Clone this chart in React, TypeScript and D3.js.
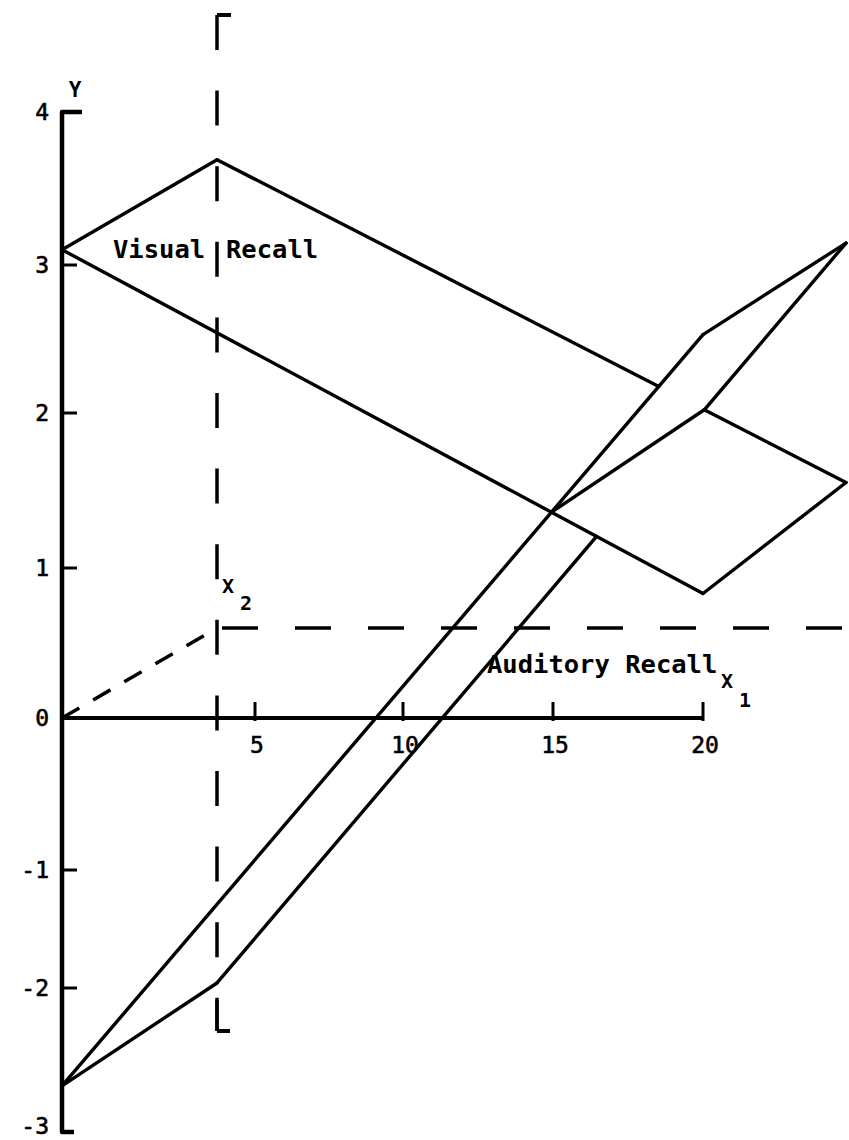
import React from "react";
import * as d3 from "d3";

// ---- data ----
const yTicks = [4, 3, 2, 1, 0, -1, -2, -3];
const yTickPos = [112, 265, 413, 568, 718, 870, 988, 1132]; // scanned axis (uneven spacing)
const x1Ticks = [5, 10, 15, 20];
const x1TickPos = [255, 403, 553, 703];
// plane heights (Y) at corners: [X1=0,X2=0], [X1=0,X2=max], [X1=20,X2=0], [X1=20,X2=max]
const visualY = [3.1, 3.1, 0.83, 0.97];
const auditoryY = [-2.68, -2.59, 2.53, 2.54];
const cornerX1 = [0, 0, 20, 20];
const cornerX2 = [0, 1, 0, 1];

const W = 849;
const H = 1140;

type P = [number, number];

function intersect(a: P, b: P, c: P, d: P): P {
  const r = [b[0] - a[0], b[1] - a[1]];
  const s = [d[0] - c[0], d[1] - c[1]];
  const den = r[0] * s[1] - r[1] * s[0];
  const t = ((c[0] - a[0]) * s[1] - (c[1] - a[1]) * s[0]) / den;
  return [a[0] + t * r[0], a[1] + t * r[1]];
}

export default function App() {
  const yScale = d3.scaleLinear().domain(yTicks).range(yTickPos);
  const xScale = d3.scaleLinear().domain([0, ...x1Ticks]).range([62, ...x1TickPos]);
  const x2Dx = d3.scaleLinear().domain([0, 20]).range([155, 143]);
  const X2_DY = -90;

  const proj = (x1: number, x2: number, y: number): P => [
    xScale(x1) + x2 * x2Dx(x1),
    yScale(y) + x2 * X2_DY,
  ];

  const V = visualY.map((y, i) => proj(cornerX1[i], cornerX2[i], y));
  const A = auditoryY.map((y, i) => proj(cornerX1[i], cornerX2[i], y));
  // V[0]=00, V[1]=0M, V[2]=20, V[3]=2M
  const P1 = intersect(V[1], V[3], A[0], A[2]); // visual top edge x auditory upper edge
  const P2 = intersect(V[1], V[3], A[1], A[3]); // visual top edge x auditory lower edge
  const P3 = intersect(V[0], V[2], A[0], A[2]); // visual bottom edge x auditory upper edge
  const P4 = intersect(V[0], V[2], A[1], A[3]); // visual bottom edge x auditory lower edge

  const line = d3.line<P>();
  const segs: P[][] = [
    // visual plane
    [V[0], V[1]],
    [V[1], P1],
    [P2, V[3]],
    [V[3], V[2]],
    [V[2], V[0]],
    // auditory plane
    [A[0], A[1]],
    [A[0], A[2]],
    [A[2], A[3]],
    [A[1], P4],
    [P2, A[3]],
    // intersection of the planes
    [P3, P2],
  ];

  const y0 = yScale(0);
  const yTopPx = yScale(4);
  const yBotPx = yScale(-3);
  const ox = xScale(0);
  const x2x = ox + x2Dx(0);
  const x2y = y0 + X2_DY;

  const font = "'DejaVu Sans Mono', 'Liberation Mono', monospace";

  return (
    <svg
      width={W}
      height={H}
      style={{ position: "absolute", left: 0, top: 0, display: "block", background: "#fff" }}
    >
      <rect x={0} y={0} width={W} height={H} fill="#fff" />

      {/* X2 dashed structure */}
      <path
        d={line([[ox, y0], [x2x, x2y]])!}
        stroke="#000"
        strokeWidth={3.5}
        strokeDasharray="20 16"
        fill="none"
      />
      <path
        d={line([[x2x + 5, x2y], [W, x2y]])!}
        stroke="#000"
        strokeWidth={3.5}
        strokeDasharray="36 37"
        fill="none"
      />
      <path
        d={line([[x2x, 15], [x2x, 1031]])!}
        stroke="#000"
        strokeWidth={3.5}
        strokeDasharray="35 40.6"
        fill="none"
      />
      <path d={line([[x2x, 15], [x2x + 14, 15]])!} stroke="#000" strokeWidth={4} fill="none" />
      <path d={line([[x2x, 1031], [x2x + 13, 1031]])!} stroke="#000" strokeWidth={4} fill="none" />
      <path d={line([[x2x, 1000], [x2x, 1031]])!} stroke="#000" strokeWidth={3.5} fill="none" />

      {/* Y axis */}
      <path
        d={line([[ox + 20, yTopPx], [ox, yTopPx], [ox, yBotPx], [ox + 12, yBotPx]])!}
        stroke="#000"
        strokeWidth={4.5}
        fill="none"
        strokeLinejoin="round"
      />
      {yTicks
        .filter((t) => t !== 4 && t !== -3 && t !== 0)
        .map((t) => (
          <line key={t} x1={ox} x2={ox + 15} y1={yScale(t)} y2={yScale(t)} stroke="#000" strokeWidth={3} />
        ))}
      {yTicks.map((t) => (
        <text
          key={t}
          x={49}
          y={Math.min(yScale(t), 1126)}
          textAnchor="end"
          dominantBaseline="central"
          fontFamily={font}
          fontSize={23}
          fill="#000"
          stroke="#000"
          strokeWidth={0.6}
        >
          {t < 0 ? "-" + Math.abs(t) : t}
        </text>
      ))}
      <text x={75} y={90} textAnchor="middle" dominantBaseline="central" fontFamily={font} fontWeight="bold" fontSize={21}>
        Y
      </text>

      {/* X1 axis */}
      <path d={line([[ox, y0], [xScale(20), y0]])!} stroke="#000" strokeWidth={4} fill="none" />
      {x1Ticks.map((t) => (
        <line key={t} x1={xScale(t)} x2={xScale(t)} y1={y0 - 16} y2={y0 + 3} stroke="#000" strokeWidth={3} />
      ))}
      {x1Ticks.map((t) => (
        <text
          key={t}
          x={xScale(t) + 2}
          y={745}
          textAnchor="middle"
          dominantBaseline="central"
          fontFamily={font}
          fontSize={23}
          fill="#000"
          stroke="#000"
          strokeWidth={0.6}
        >
          {t}
        </text>
      ))}

      {/* planes */}
      {segs.map((s, i) => (
        <path key={i} d={line(s)!} stroke="#000" strokeWidth={3.4} fill="none" strokeLinecap="round" />
      ))}

      {/* labels */}
      <text fontFamily={font} fontWeight="bold" fontSize={25.5} fill="#000" y={258}>
        <tspan x={113}>Visual</tspan>
        <tspan x={226}>Recall</tspan>
      </text>
      <text fontFamily={font} fontWeight="bold" fontSize={25.5} fill="#000" x={487} y={673}>
        Auditory Recall
      </text>
      <text fontFamily={font} fontWeight="bold" fontSize={20} fill="#000" x={721} y={688}>
        X
        <tspan x={739} y={707} fontSize={20}>1</tspan>
      </text>
      <text fontFamily={font} fontWeight="bold" fontSize={20} fill="#000" x={222} y={593}>
        X
        <tspan x={240} y={610} fontSize={20}>2</tspan>
      </text>
    </svg>
  );
}
